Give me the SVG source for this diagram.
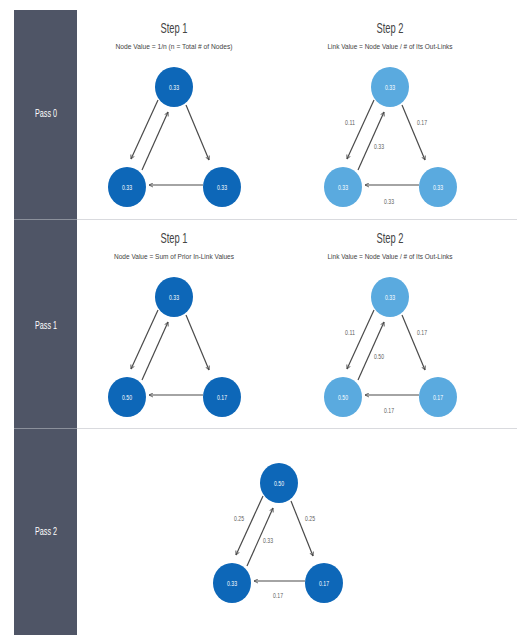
<svg xmlns="http://www.w3.org/2000/svg" width="517" height="635" viewBox="0 0 517 635">
<defs>
<marker id="ah" viewBox="0 0 10 10" refX="9" refY="5" markerWidth="5" markerHeight="5" orient="auto" markerUnits="userSpaceOnUse">
<path d="M1,1 L9,5 L1,9" fill="none" stroke="#4a4a4a" stroke-width="1.6"/>
</marker>
<style>
text{font-family:"Liberation Sans",Arial,sans-serif;text-anchor:middle}
.side{fill:#4f5566}
.pass{fill:#ffffff;font-size:11px}
.title{fill:#444;font-size:14.5px}
.sub{fill:#444;font-size:7.5px}
.dk{fill:#0d67b8}
.lt{fill:#5aaadf}
.nl{fill:#ffffff;font-size:7px}
.el{fill:#5f5f5f;font-size:7.5px}
.arr{stroke:#4a4a4a;stroke-width:1.2;fill:none;marker-end:url(#ah)}
.div{stroke:#d9dade;stroke-width:1.2}
</style>
</defs>
<rect width="517" height="635" fill="#ffffff"/>
<g id="sidebar">
<rect class="side" x="14" y="10" width="63" height="625"/>
<line x1="14" y1="219.5" x2="77" y2="219.5" stroke="#8b909b" stroke-width="1.2"/>
<line x1="14" y1="428.5" x2="77" y2="428.5" stroke="#8b909b" stroke-width="1.2"/>
<text class="pass" x="46" y="117" textLength="22" lengthAdjust="spacingAndGlyphs">Pass 0</text>
<text class="pass" x="46" y="329" textLength="22" lengthAdjust="spacingAndGlyphs">Pass 1</text>
<text class="pass" x="46" y="535" textLength="22" lengthAdjust="spacingAndGlyphs">Pass 2</text>
</g>
<g id="dividers">
<line class="div" x1="77" y1="219.5" x2="517" y2="219.5"/>
<line class="div" x1="77" y1="428.5" x2="517" y2="428.5"/>
</g>
<g id="headings">
<text class="title" x="174" y="33" textLength="27" lengthAdjust="spacingAndGlyphs">Step 1</text>
<text class="sub" x="174" y="49" textLength="117" lengthAdjust="spacingAndGlyphs">Node Value = 1/n (n = Total # of Nodes)</text>
<text class="title" x="390" y="33" textLength="27" lengthAdjust="spacingAndGlyphs">Step 2</text>
<text class="sub" x="390" y="49" textLength="125" lengthAdjust="spacingAndGlyphs">Link Value = Node Value / # of Its Out-Links</text>
<text class="title" x="174" y="243" textLength="27" lengthAdjust="spacingAndGlyphs">Step 1</text>
<text class="sub" x="174" y="259" textLength="120" lengthAdjust="spacingAndGlyphs">Node Value = Sum of Prior In-Link Values</text>
<text class="title" x="390" y="243" textLength="27" lengthAdjust="spacingAndGlyphs">Step 2</text>
<text class="sub" x="390" y="259" textLength="125" lengthAdjust="spacingAndGlyphs">Link Value = Node Value / # of Its Out-Links</text>
</g>
<g id="connectors">
<g transform="translate(174,87)">
<line class="arr" x1="-16" y1="13" x2="-43" y2="72"/>
<line class="arr" x1="-32" y1="83" x2="-6" y2="25"/>
<line class="arr" x1="12" y1="18" x2="35" y2="73"/>
<line class="arr" x1="29" y1="98" x2="-25" y2="98"/>
</g>
<g transform="translate(390,87)">
<line class="arr" x1="-16" y1="13" x2="-43" y2="72"/>
<line class="arr" x1="-32" y1="83" x2="-6" y2="25"/>
<line class="arr" x1="12" y1="18" x2="35" y2="73"/>
<line class="arr" x1="29" y1="98" x2="-25" y2="98"/>
<text class="el" x="-40" y="38" textLength="10" lengthAdjust="spacingAndGlyphs">0.11</text>
<text class="el" x="-11" y="62" textLength="10" lengthAdjust="spacingAndGlyphs">0.33</text>
<text class="el" x="32" y="38" textLength="10" lengthAdjust="spacingAndGlyphs">0.17</text>
<text class="el" x="-1" y="117" textLength="10" lengthAdjust="spacingAndGlyphs">0.33</text>
</g>
<g transform="translate(174,297)">
<line class="arr" x1="-16" y1="13" x2="-43" y2="72"/>
<line class="arr" x1="-32" y1="83" x2="-6" y2="25"/>
<line class="arr" x1="12" y1="18" x2="35" y2="73"/>
<line class="arr" x1="29" y1="98" x2="-25" y2="98"/>
</g>
<g transform="translate(390,297)">
<line class="arr" x1="-16" y1="13" x2="-43" y2="72"/>
<line class="arr" x1="-32" y1="83" x2="-6" y2="25"/>
<line class="arr" x1="12" y1="18" x2="35" y2="73"/>
<line class="arr" x1="29" y1="98" x2="-25" y2="98"/>
<text class="el" x="-40" y="38" textLength="10" lengthAdjust="spacingAndGlyphs">0.11</text>
<text class="el" x="-11" y="62" textLength="10" lengthAdjust="spacingAndGlyphs">0.50</text>
<text class="el" x="32" y="38" textLength="10" lengthAdjust="spacingAndGlyphs">0.17</text>
<text class="el" x="-1" y="116" textLength="10" lengthAdjust="spacingAndGlyphs">0.17</text>
</g>
<g transform="translate(279,483)">
<line class="arr" x1="-16" y1="13" x2="-43" y2="72"/>
<line class="arr" x1="-32" y1="83" x2="-6" y2="25"/>
<line class="arr" x1="12" y1="18" x2="34" y2="73"/>
<line class="arr" x1="26" y1="98" x2="-25" y2="98"/>
<text class="el" x="-40" y="38" textLength="10" lengthAdjust="spacingAndGlyphs">0.25</text>
<text class="el" x="-11" y="60" textLength="10" lengthAdjust="spacingAndGlyphs">0.33</text>
<text class="el" x="31" y="38" textLength="10" lengthAdjust="spacingAndGlyphs">0.25</text>
<text class="el" x="-1" y="115" textLength="10" lengthAdjust="spacingAndGlyphs">0.17</text>
</g>
</g>
<g id="p0s1-top"><ellipse class="dk" cx="174" cy="87" rx="19" ry="20"/><text class="nl" x="174" y="89.5" textLength="10" lengthAdjust="spacingAndGlyphs">0.33</text></g>
<g id="p0s1-left"><ellipse class="dk" cx="127" cy="187" rx="19" ry="20"/><text class="nl" x="127" y="189.5" textLength="10" lengthAdjust="spacingAndGlyphs">0.33</text></g>
<g id="p0s1-right"><ellipse class="dk" cx="222" cy="187" rx="19" ry="20"/><text class="nl" x="222" y="189.5" textLength="10" lengthAdjust="spacingAndGlyphs">0.33</text></g>
<g id="p0s2-top"><ellipse class="lt" cx="390" cy="87" rx="19" ry="20"/><text class="nl" x="390" y="89.5" textLength="10" lengthAdjust="spacingAndGlyphs">0.33</text></g>
<g id="p0s2-left"><ellipse class="lt" cx="343" cy="187" rx="19" ry="20"/><text class="nl" x="343" y="189.5" textLength="10" lengthAdjust="spacingAndGlyphs">0.33</text></g>
<g id="p0s2-right"><ellipse class="lt" cx="438" cy="187" rx="19" ry="20"/><text class="nl" x="438" y="189.5" textLength="10" lengthAdjust="spacingAndGlyphs">0.33</text></g>
<g id="p1s1-top"><ellipse class="dk" cx="174" cy="297" rx="19" ry="20"/><text class="nl" x="174" y="299.5" textLength="10" lengthAdjust="spacingAndGlyphs">0.33</text></g>
<g id="p1s1-left"><ellipse class="dk" cx="127" cy="397" rx="19" ry="20"/><text class="nl" x="127" y="399.5" textLength="10" lengthAdjust="spacingAndGlyphs">0.50</text></g>
<g id="p1s1-right"><ellipse class="dk" cx="222" cy="397" rx="19" ry="20"/><text class="nl" x="222" y="399.5" textLength="10" lengthAdjust="spacingAndGlyphs">0.17</text></g>
<g id="p1s2-top"><ellipse class="lt" cx="390" cy="297" rx="19" ry="20"/><text class="nl" x="390" y="299.5" textLength="10" lengthAdjust="spacingAndGlyphs">0.33</text></g>
<g id="p1s2-left"><ellipse class="lt" cx="343" cy="397" rx="19" ry="20"/><text class="nl" x="343" y="399.5" textLength="10" lengthAdjust="spacingAndGlyphs">0.50</text></g>
<g id="p1s2-right"><ellipse class="lt" cx="438" cy="397" rx="19" ry="20"/><text class="nl" x="438" y="399.5" textLength="10" lengthAdjust="spacingAndGlyphs">0.17</text></g>
<g id="p2-top"><ellipse class="dk" cx="279" cy="483" rx="19" ry="20"/><text class="nl" x="279" y="485.5" textLength="10" lengthAdjust="spacingAndGlyphs">0.50</text></g>
<g id="p2-left"><ellipse class="dk" cx="232" cy="583" rx="19" ry="20"/><text class="nl" x="232" y="585.5" textLength="10" lengthAdjust="spacingAndGlyphs">0.33</text></g>
<g id="p2-right"><ellipse class="dk" cx="324" cy="583" rx="19" ry="20"/><text class="nl" x="324" y="585.5" textLength="10" lengthAdjust="spacingAndGlyphs">0.17</text></g>
</svg>
